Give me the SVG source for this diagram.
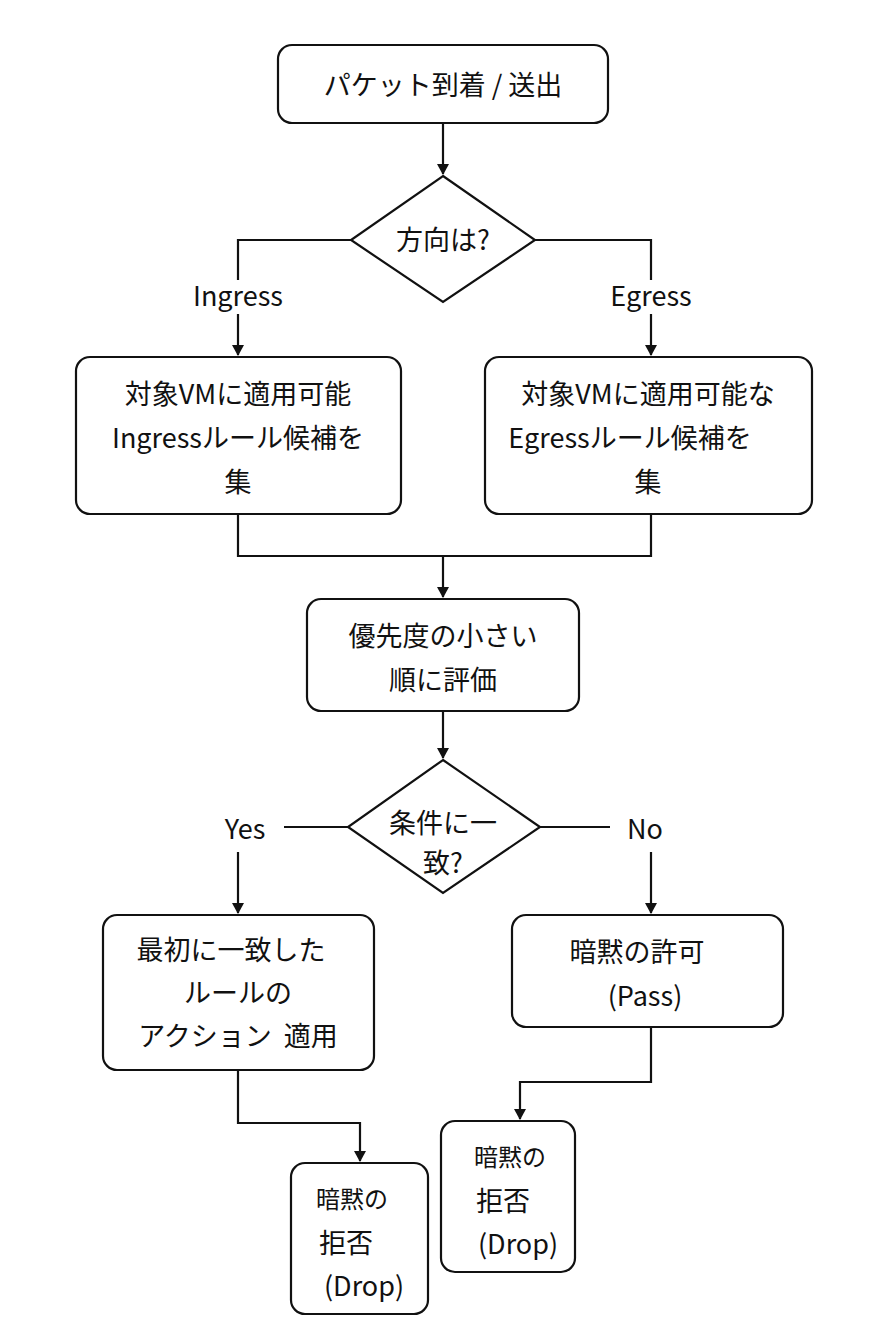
<svg xmlns="http://www.w3.org/2000/svg" width="886" height="1330" viewBox="0 0 886 1330">
<style>
.n{fill:#fff;stroke:#111;stroke-width:2.2}
.t{font-family:"Noto Sans CJK JP","Noto Sans",sans-serif;font-size:27px;fill:#111;text-anchor:middle}
.c{fill:none;stroke:#111;stroke-width:2.2}
</style>
<defs><marker id="a" markerWidth="12" markerHeight="12" refX="10" refY="6" orient="auto" markerUnits="userSpaceOnUse"><path d="M0,0 L11,6 L0,12 Z" fill="#111"/></marker></defs>
<rect width="886" height="1330" fill="#fff"/>
<g id="connectors">
<path class="c" d="M443,123 V174" marker-end="url(#a)"/>
<path class="c" d="M351,240 H238 V280 M238,314 V355" marker-end="url(#a)"/>
<path class="c" d="M535,240 H651 V280 M651,314 V355" marker-end="url(#a)"/>
<path class="c" d="M238,514 V556 H651 V514"/>
<path class="c" d="M443,556 V597" marker-end="url(#a)"/>
<path class="c" d="M443,711 V758" marker-end="url(#a)"/>
<path class="c" d="M348,827 H284"/>
<path class="c" d="M238,852 V913" marker-end="url(#a)"/>
<path class="c" d="M540,827 H610"/>
<path class="c" d="M651,852 V913" marker-end="url(#a)"/>
<path class="c" d="M238,1070 V1123 H360 V1161" marker-end="url(#a)"/>
<path class="c" d="M651,1027 V1082 H520 V1119" marker-end="url(#a)"/>
<text class="t" x="238" y="306">Ingress</text>
<text class="t" x="651" y="306">Egress</text>
<text class="t" x="245" y="839">Yes</text>
<text class="t" x="645" y="839">No</text>
</g>
<g id="start"><rect class="n" x="278" y="45" width="330" height="78" rx="14"/><text class="t" x="443" y="95">パケット到着 / 送出</text></g>
<g id="dir"><polygon class="n" points="443,176 535,240 443,302 351,240"/><text class="t" x="443" y="250">方向は?</text></g>
<g id="ingress"><rect class="n" x="76" y="357" width="325" height="157" rx="14"/><text class="t" x="238" y="404">対象VMに適用可能</text><text class="t" x="238" y="448">Ingressルール候補を</text><text class="t" x="238" y="492">集</text></g>
<g id="egress"><rect class="n" x="485" y="357" width="327" height="157" rx="14"/><text class="t" x="648" y="404">対象VMに適用可能な</text><text class="t" x="630" y="448">Egressルール候補を</text><text class="t" x="648" y="492">集</text></g>
<g id="eval"><rect class="n" x="307" y="599" width="272" height="112" rx="14"/><text class="t" x="443" y="646">優先度の小さい</text><text class="t" x="443" y="690">順に評価</text></g>
<g id="match"><polygon class="n" points="443,760 540,827 443,893 348,827"/><text class="t" x="443" y="833">条件に一</text><text class="t" x="443" y="873">致?</text></g>
<g id="apply"><rect class="n" x="103" y="915" width="271" height="155" rx="14"/><text class="t" x="231" y="960">最初に一致した</text><text class="t" x="238" y="1003">ルールの</text><text class="t" x="238" y="1046">アクション&#160;&#160;適用</text></g>
<g id="pass"><rect class="n" x="512" y="915" width="271" height="112" rx="14"/><text class="t" x="637" y="962">暗黙の許可</text><text class="t" x="645" y="1006">(Pass)</text></g>
<g id="drop1"><rect class="n" x="291" y="1163" width="137" height="151" rx="14"/><text class="t" x="352" y="1208" style="font-size:24px">暗黙の</text><text class="t" x="346" y="1253">拒否</text><text class="t" x="364" y="1296">(Drop)</text></g>
<g id="drop2"><rect class="n" x="441" y="1121" width="134" height="151" rx="14"/><text class="t" x="510" y="1166" style="font-size:24px">暗黙の</text><text class="t" x="503" y="1211">拒否</text><text class="t" x="518" y="1254">(Drop)</text></g>
</svg>
